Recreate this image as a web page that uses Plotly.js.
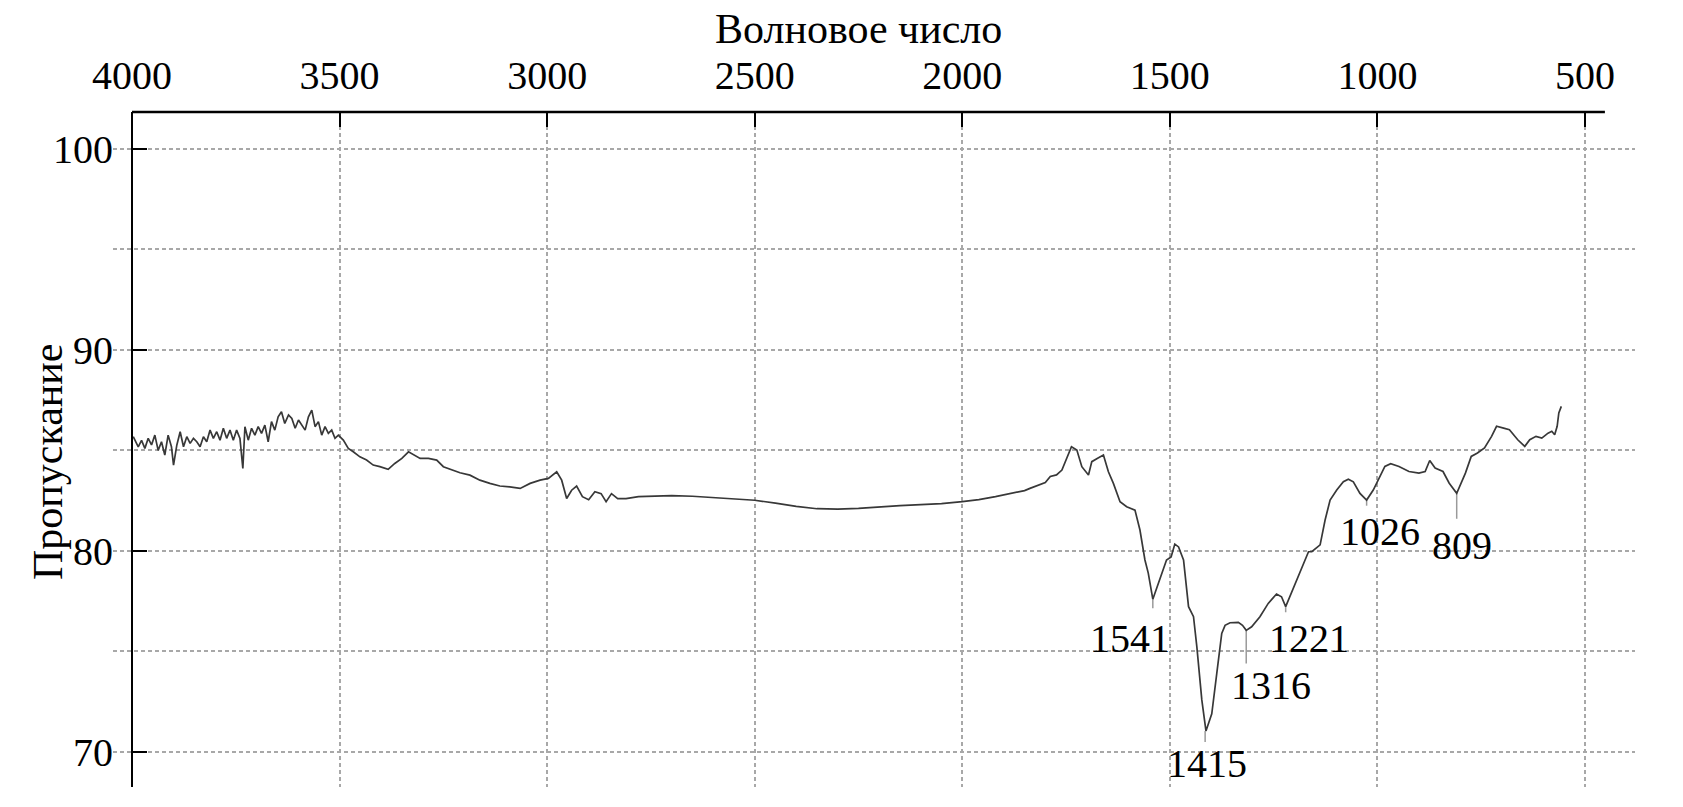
<!DOCTYPE html>
<html><head><meta charset="utf-8">
<script src="https://cdn.plot.ly/plotly-3.0.1.min.js"></script>
<style>html,body{margin:0;padding:0;background:#fff}#chart{width:1683px;height:807px}</style>
</head><body><div id="chart"></div>
<script>
// IR spectrum: wavenumber (cm-1) vs transmittance (%)
const wavenumber = [3997,3985,3977,3969,3961,3953,3945,3937,3929,3921,3913,3905,3900,3892,3884,3876,3868,3860,3852,3844,3836,3828,3820,3812,3804,3796,3788,3780,3772,3764,3756,3748,3740,3733,3728,3720,3712,3704,3696,3688,3680,3672,3664,3656,3648,3640,3632,3623,3615,3607,3599,3591,3583,3575,3567,3559,3551,3543,3535,3527,3519,3511,3503,3491,3479,3467,3451,3435,3419,3403,3383,3367,3350,3334,3322,3306,3286,3266,3250,3230,3210,3186,3162,3138,3114,3090,3065,3041,3017,2997,2977,2965,2953,2941,2929,2915,2900,2885,2870,2858,2845,2830,2810,2780,2750,2700,2650,2600,2550,2500,2450,2400,2350,2300,2250,2200,2150,2100,2050,2000,1960,1920,1880,1850,1837,1800,1788,1773,1760,1745,1737,1724,1712,1696,1688,1675,1660,1648,1636,1620,1604,1584,1572,1560,1552,1541,1528,1508,1497,1488,1479,1467,1455,1443,1435,1423,1413,1399,1387,1375,1367,1355,1335,1325,1316,1303,1283,1263,1243,1231,1221,1206,1186,1166,1158,1138,1126,1114,1098,1082,1070,1058,1042,1026,1010,994,982,968,948,924,900,885,874,861,842,827,809,788,774,759,742,725,713,696,682,662,645,633,618,604,589,580,573,567,563,557];
const transmittance = [85.68,85.18,85.5,85.1,85.6,85.27,85.76,85.0,85.43,84.77,85.76,85.18,84.27,85.27,85.93,85.18,85.68,85.35,85.6,85.43,85.18,85.68,85.43,86.01,85.6,85.93,85.51,86.1,85.6,86.01,85.51,86.01,85.6,84.1,86.18,85.51,86.1,85.76,86.18,85.85,86.26,85.43,86.43,86.01,86.67,86.92,86.34,86.76,86.59,86.1,86.51,86.26,86.01,86.67,87.0,86.18,86.43,85.76,86.18,85.85,86.01,85.6,85.76,85.51,85.1,84.93,84.68,84.52,84.27,84.19,84.06,84.35,84.6,84.93,84.77,84.6,84.6,84.52,84.19,84.02,83.89,83.77,83.52,83.36,83.23,83.19,83.11,83.36,83.52,83.61,83.94,83.52,82.61,83.02,83.23,82.7,82.55,82.95,82.85,82.45,82.85,82.6,82.6,82.7,82.72,82.75,82.72,82.65,82.58,82.52,82.38,82.22,82.1,82.08,82.12,82.2,82.25,82.3,82.35,82.45,82.55,82.7,82.85,83.0,83.11,83.4,83.7,83.78,84.02,84.8,85.18,85.02,84.19,83.78,84.44,84.6,84.77,83.94,83.36,82.45,82.2,82.03,81.04,79.55,78.9,77.6,78.4,79.55,79.7,80.34,80.2,79.55,77.23,76.73,75.24,72.59,71.05,71.9,73.9,75.9,76.3,76.43,76.45,76.3,76.05,76.23,76.73,77.39,77.86,77.72,77.23,77.97,79.05,79.96,79.96,80.3,81.54,82.53,83.03,83.44,83.57,83.44,82.86,82.53,83.03,83.7,84.2,84.34,84.2,83.95,83.87,83.95,84.5,84.12,83.95,83.37,82.87,83.87,84.7,84.87,85.12,85.7,86.2,86.11,86.03,85.53,85.2,85.53,85.7,85.61,85.86,85.95,85.78,86.2,86.86,87.19];

const xTickVals = [4000,3500,3000,2500,2000,1500,1000,500];
const xTickText = ['4000','3500','3000','2500','2000','1500','1000','500'];
const yTickVals = [70,80,90,100];
const yTickText = ['70','80','90','100'];

const xTitle = 'Волновое число';
const yTitle = 'Пропускание';

// Peak labels
const peakWn = [1541,1415,1316,1221,1026,809];
const peakText = ['1541','1415','1316','1221','1026','809'];
const leaderTop = [77.6,71.05,76.05,77.23,82.53,82.87];
const leaderBottom = [77.15,70.5,74.4,76.95,82.25,81.6];
const labelWn = [1596,1411,1257,1166,993,797];
const labelT = [75.65,69.44,73.33,75.65,80.96,80.29];

const FONT = '"Liberation Serif","Times New Roman",Times,serif';
const gridStyle = {gridcolor:'#a8a8a8', gridwidth:2, griddash:'4px,3px'};

const shapes = [
  {type:'line', xref:'x', yref:'paper', x0:4000, x1:452, y0:1, y1:1,
   line:{color:'#000', width:2.5}, layer:'above'}
];
peakWn.forEach((w,i)=>{
  shapes.push({type:'line', xref:'x', yref:'y', x0:w, x1:w, y0:leaderTop[i], y1:leaderBottom[i],
    line:{color:'#9a9a9a', width:1.5}, layer:'below'});
});
const annotations = peakText.map((t,i)=>({
  x:labelWn[i], y:labelT[i], xref:'x', yref:'y', text:t, showarrow:false,
  xanchor:'center', yanchor:'middle', font:{family:FONT, size:40, color:'#000'}
}));
// axis titles placed as text outside the plot area
annotations.push({
  text:xTitle, xref:'paper', yref:'paper', x:0.4895, y:1.123,
  xanchor:'center', yanchor:'middle', showarrow:false,
  font:{family:FONT, size:42, color:'#000'}
});
annotations.push({
  text:yTitle, xref:'paper', yref:'paper', x:-0.0427, y:0.4815,
  xanchor:'center', yanchor:'middle', textangle:-90, showarrow:false,
  font:{family:FONT, size:42, color:'#000'}
});

const traces = [{
  x: wavenumber, y: transmittance, type:'scatter', mode:'lines',
  line:{color:'#383838', width:1.7}, hoverinfo:'x+y'
}];

const layout = {
  width:1683, height:807,
  margin:{l:113, r:48, t:112, b:20, pad:0},
  paper_bgcolor:'#fff', plot_bgcolor:'#fff',
  showlegend:false,
  font:{family:FONT, size:40, color:'#000'},
  xaxis:Object.assign({
    side:'top', range:[4045.8, 379.5], tickmode:'array', tickvals:xTickVals, ticktext:xTickText,
    ticks:'inside', ticklen:15, tickwidth:2, tickcolor:'#000',
    showline:false, zeroline:false, showgrid:true,
    tickfont:{family:FONT, size:40, color:'#000'},
    ticklabelstandoff:14
  }, gridStyle),
  yaxis:Object.assign({
    range:[68.26, 101.83], anchor:'free', position:0.01248,
    tickmode:'array', tickvals:yTickVals, ticktext:yTickText,
    ticks:'inside', ticklen:14, tickwidth:2.5, tickcolor:'#000',
    showline:true, linewidth:2.5, linecolor:'#000', zeroline:false, showgrid:true,
    tickfont:{family:FONT, size:40, color:'#000'},
    ticklabelstandoff:10,
    minor:Object.assign({dtick:5, tick0:70, showgrid:true, ticks:''}, gridStyle)
  }, gridStyle),
  shapes: shapes,
  annotations: annotations
};

Plotly.newPlot('chart', traces, layout, {staticPlot:true, displayModeBar:false});
</script></body></html>
